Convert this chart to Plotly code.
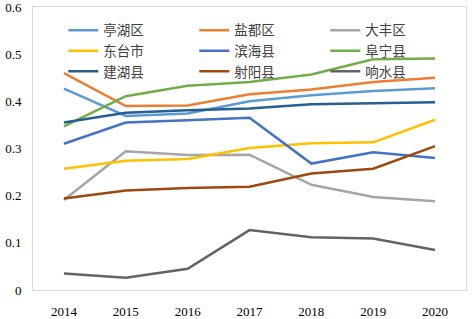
import plotly.graph_objects as go

years = ["2014", "2015", "2016", "2017", "2018", "2019", "2020"]
tinghu = [0.427, 0.369, 0.374, 0.400, 0.413, 0.422, 0.428]
yandu = [0.460, 0.390, 0.391, 0.415, 0.425, 0.441, 0.450]
dafeng = [0.191, 0.294, 0.286, 0.287, 0.223, 0.197, 0.188]
dongtai = [0.257, 0.274, 0.278, 0.301, 0.311, 0.313, 0.361]
binhai = [0.310, 0.355, 0.360, 0.365, 0.268, 0.292, 0.280]
funing = [0.347, 0.411, 0.433, 0.441, 0.457, 0.489, 0.491]
jianhu = [0.355, 0.376, 0.381, 0.385, 0.394, 0.396, 0.398]
sheyang = [0.194, 0.211, 0.216, 0.219, 0.247, 0.257, 0.305]
xiangshui = [0.035, 0.026, 0.045, 0.127, 0.112, 0.109, 0.085]

names = ["亭湖区", "盐都区", "大丰区", "东台市", "滨海县", "阜宁县", "建湖县", "射阳县", "响水县"]
series = [tinghu, yandu, dafeng, dongtai, binhai, funing, jianhu, sheyang, xiangshui]
colors = ["#5B9BD5", "#ED7D31", "#A5A5A5", "#FFC000", "#4472C4", "#70AD47", "#255E91", "#9E480E", "#636363"]

fig = go.Figure()
for n, s, c in zip(names, series, colors):
    fig.add_trace(go.Scatter(x=years, y=s, name=n, mode="lines",
                             line=dict(color=c, width=2.5)))

font_family = "'Liberation Serif', 'Noto Sans CJK SC', serif"
fig.update_layout(
    width=472, height=319,
    margin=dict(l=33, r=6, t=7, b=29, autoexpand=False),
    plot_bgcolor="white", paper_bgcolor="white",
    font=dict(family=font_family, size=13, color="#404040"),
    showlegend=True,
    legend=dict(orientation="h", x=0.07, y=0.972, xanchor="left", yanchor="top",
                entrywidth=86, entrywidthmode="pixels",
                bgcolor="rgba(0,0,0,0)", font=dict(size=13.5, color="#404040"),
                tracegroupgap=0),
    xaxis=dict(type="category", range=[-0.5, 6.5], showgrid=False, automargin=False,
               showline=True, mirror=True, linecolor="#D9D9D9", linewidth=1,
               ticks="", ticklabelstandoff=9, ticklabeloverflow="allow",
               tickfont=dict(size=13, color="#000000")),
    yaxis=dict(range=[0, 0.6], dtick=0.1, showgrid=False, zeroline=False, automargin=False,
               showline=True, mirror=True, linecolor="#D9D9D9", linewidth=1,
               ticks="", ticklabelstandoff=8, ticklabeloverflow="allow",
               tickfont=dict(size=13, color="#000000")),
)
fig.write_html("out.html", config={"displayModeBar": False},
               post_script="document.body.style.margin='0';document.body.style.overflow='hidden';")
